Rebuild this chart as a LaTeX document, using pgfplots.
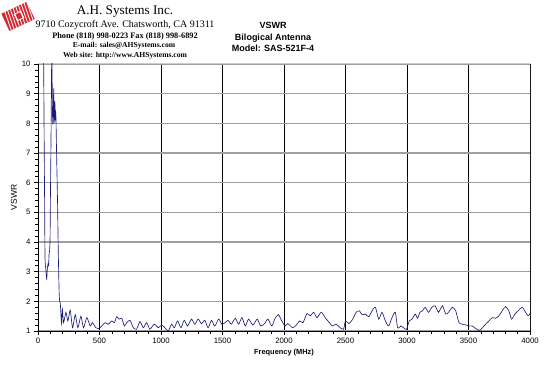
\documentclass[border=0pt]{standalone}
\usepackage{pgfplots}
\pgfplotsset{compat=1.18}
\usepackage{fontspec}
\setmainfont{Liberation Serif}
\setsansfont{Liberation Sans}
\definecolor{curve}{RGB}{28,28,120}
\definecolor{logored}{RGB}{215,40,50}
\begin{document}
\begin{tikzpicture}
\path[use as bounding box] (0bp,0bp) rectangle (550bp,368bp);
% logo
\begin{scope}[shift={(19bp,352bp)},rotate=25]
  \fill[logored] (-15bp,-9.5bp) rectangle (13bp,9.5bp);
  \foreach \i in {-13,-10,...,11} {\draw[white,line width=0.8bp] (\i bp,-9.5bp) -- (\i bp+2bp,9.5bp);}
  \fill[white] (-4bp,-4bp) rectangle (4bp,4bp);
  \fill[logored] (-2.5bp,-3bp) rectangle (2.5bp,3bp);
\end{scope}
% header text
\node[font=\fontsize{13.2bp}{15bp}\selectfont] at (125bp,356bp) {A.H. Systems Inc.};
\node[font=\fontsize{10bp}{12bp}\selectfont] at (125bp,343bp) {9710 Cozycroft Ave. Chatsworth, CA 91311};
\node[font=\bfseries\fontsize{8.3bp}{9bp}\selectfont] at (125bp,331bp) {Phone (818) 998-0223 Fax (818) 998-6892};
\node[font=\bfseries\fontsize{7.6bp}{8bp}\selectfont] at (124bp,322bp) {E-mail: sales@AHSystems.com};
\node[font=\bfseries\fontsize{7.6bp}{8bp}\selectfont] at (125bp,312bp) {Web site: http://www.AHSystems.com};
\node[font=\sffamily\bfseries\fontsize{9bp}{11.5bp}\selectfont,align=center] at (273bp,331bp) {VSWR\\Bilogical Antenna\\Model: SAS-521F-4};
\begin{axis}[
  at={(38bp,37bp)}, anchor=south west,
  width=492bp, height=267bp, scale only axis,
  xmin=0, xmax=4000, ymin=1, ymax=10,
  xtick={0,500,...,4000}, ytick={1,2,...,10},
  minor x tick num=4, minor y tick num=4,
  tick align=outside,
  major tick length=4bp, minor tick length=2.5bp,
  axis x line*=bottom, axis y line*=left,
  axis line style={black, line width=0.6bp},
  every tick/.style={black, line width=0.5bp},
  xmajorgrids, ymajorgrids,
  x grid style={black, line width=0.6bp},
  y grid style={gray!75, line width=1.2bp},
  tick label style={font=\sffamily\fontsize{7.8bp}{9bp}\selectfont},
  /pgf/number format/assume math mode=true,
  /pgf/number format/set thousands separator={},
  xlabel={Frequency (MHz)},
  ylabel={VSWR},
  xlabel style={font=\sffamily\bfseries\fontsize{7.4bp}{9bp}\selectfont, yshift=2bp},
  ylabel style={font=\sffamily\fontsize{8.5bp}{10bp}\selectfont, yshift=-2bp},
  clip=true,
]
\draw[gray!40, line width=1bp] (rel axis cs:0,1) -- (rel axis cs:1,1) -- (rel axis cs:1,0);
\addplot[curve, line width=0.65bp, smooth, tension=0.4] table {
x y
40 12
46 10
50 7.5
53 5.8
57 3.5
63 3.1
67 2.9
71 2.75
76 3.1
81 3.25
86 3.2
90 3.6
94 3.7
98 4.1
101 5.5
104 6.7
107 8.0
110 9.7
113 10.3
116 9.0
119 8.1
122 8.0
125 8.6
128 9.15
131 8.1
134 8.2
137 8.75
140 8.1
143 8.4
146 8.2
149 7.5
152 6.8
156 6.0
160 5.1
164 3.9
168 3.0
172 2.3
176 2.0
181 1.95
186 1.6
192 1.25
198 1.74
208 1.28
227 1.63
243 1.34
262 1.7
281 1.11
303 1.55
324 1.11
349 1.5
370 1.11
397 1.45
424 1.17
443 1.28
470 1.11
492 1.08
519 1.17
546 1.28
573 1.23
600 1.34
621 1.28
640 1.48
659 1.40
681 1.43
702 1.17
721 1.28
748 1.36
775 1.11
802 1.06
829 1.32
856 1.11
883 1.28
910 1.06
945 1.23
978 1.11
1005 1.20
1032 1.11
1059 1.0
1086 1.23
1108 1.11
1135 1.34
1162 1.11
1189 1.36
1216 1.17
1248 1.40
1275 1.23
1302 1.40
1329 1.25
1356 1.36
1383 1.11
1410 1.36
1437 1.17
1469 1.40
1494 1.23
1521 1.28
1545 1.36
1572 1.23
1604 1.43
1631 1.23
1658 1.45
1685 1.17
1712 1.40
1747 1.20
1782 1.40
1810 1.17
1842 1.25
1869 1.40
1901 1.17
1928 1.43
1955 1.55
1982 1.34
2009 1.17
2031 1.25
2070 1.11
2100 1.20
2127 1.34
2154 1.28
2187 1.59
2214 1.51
2241 1.63
2268 1.45
2303 1.63
2338 1.43
2370 1.28
2392 1.17
2424 1.23
2457 1.11
2484 1.06
2500 1.34
2527 1.25
2559 1.40
2586 1.63
2613 1.68
2635 1.55
2662 1.57
2689 1.48
2716 1.68
2743 1.80
2770 1.40
2797 1.63
2824 1.34
2851 1.17
2878 1.45
2905 1.63
2924 1.11
2951 1.17
2978 1.09
2997 1.06
3018 1.34
3040 1.40
3067 1.57
3086 1.43
3105 1.63
3126 1.68
3148 1.80
3175 1.63
3202 1.80
3229 1.85
3256 1.63
3288 1.85
3315 1.57
3337 1.63
3369 1.80
3396 1.68
3423 1.28
3450 1.23
3483 1.20
3504 1.17
3531 1.17
3558 1.08
3591 1.02
3612 1.11
3639 1.23
3666 1.34
3693 1.45
3720 1.43
3747 1.51
3774 1.68
3801 1.82
3828 1.68
3850 1.40
3877 1.57
3904 1.68
3937 1.80
3964 1.63
3985 1.51
4000 1.59
};
\end{axis}
\end{tikzpicture}
\end{document}
